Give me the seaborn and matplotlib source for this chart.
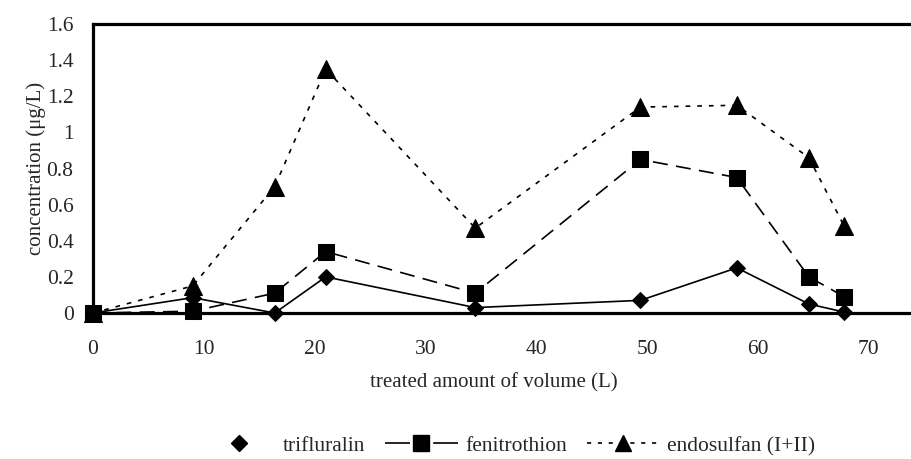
import matplotlib
matplotlib.use("Agg")
import matplotlib.pyplot as plt
from matplotlib.lines import Line2D
import seaborn as sns
import pandas as pd

# treated volume (L) at each sampling point
volume = [0, 9.0, 16.4, 21.0, 34.5, 49.4, 58.1, 64.6, 67.8]
# pesticide concentrations (ug/L)
trifluralin = [0.0, 0.085, 0.0, 0.20, 0.03, 0.07, 0.25, 0.05, 0.005]
fenitrothion = [0.0, 0.01, 0.11, 0.34, 0.11, 0.85, 0.75, 0.20, 0.09]
endosulfan = [0.0, 0.15, 0.70, 1.35, 0.47, 1.14, 1.15, 0.86, 0.48]

series_names = ["trifluralin", "fenitrothion", "endosulfan (I+II)"]
x_ticks = [0, 10, 20, 30, 40, 50, 60, 70]
y_ticks = [0, 0.2, 0.4, 0.6, 0.8, 1, 1.2, 1.4, 1.6]
y_tick_labels = ["0", "0.2", "0.4", "0.6", "0.8", "1", "1.2", "1.4", "1.6"]

sns.set_style("white")
plt.rcParams["font.family"] = ["Liberation Serif", "DejaVu Serif"]

df = pd.DataFrame({
    "volume": volume * 3,
    "conc": trifluralin + fenitrothion + endosulfan,
    "series": [series_names[0]] * len(volume)
    + [series_names[1]] * len(volume)
    + [series_names[2]] * len(volume),
})

fig = plt.figure(figsize=(9.11, 4.59), dpi=100)
ax = fig.add_axes([93 / 911, 1 - 313 / 459, 1 - 93 / 911 + 0.001, (313 - 24) / 459])

styles = {
    series_names[0]: dict(marker="D", markersize=8.5, linestyle="-", lw=1.2),
    series_names[1]: dict(marker="s", markersize=12, linestyle=(0, (9, 5)), lw=1.2),
    series_names[2]: dict(marker="^", markersize=12.5, linestyle=(0, (2.8, 4.2)), lw=1.2),
}

for name in series_names:
    sub = df[df["series"] == name]
    st = styles[name]
    sns.lineplot(data=sub, x="volume", y="conc", ax=ax, color="black",
                 marker=st["marker"], markersize=st["markersize"],
                 linestyle=st["linestyle"], linewidth=st["lw"],
                 markeredgecolor="black", markerfacecolor="black",
                 clip_on=False, legend=False, zorder=3)

ax.set_xlim(0, 73.9)
ax.set_ylim(0, 1.6)
ax.set_xticks(x_ticks)
ax.set_xticklabels([str(t) for t in x_ticks])
ax.set_yticks(y_ticks)
ax.set_yticklabels(y_tick_labels)
ax.tick_params(axis="both", direction="out", length=4, width=1, color="black",
               labelsize=15.5)
ax.tick_params(axis="x", pad=15.5)
ax.tick_params(axis="y", pad=10)

for side in ["left", "bottom", "top"]:
    ax.spines[side].set_visible(True)
    ax.spines[side].set_linewidth(2.3)
    ax.spines[side].set_color("black")
ax.spines["right"].set_visible(False)

ax.set_xlabel("treated amount of volume (L)", fontsize=15)
ax.set_ylabel("concentration (μg/L)", fontsize=15)
ax.xaxis.set_label_coords(0.49, -0.208)
ax.yaxis.set_label_coords(-0.057, 0.5)

handles = [
    Line2D([], [], color="black", marker="D", markersize=8.5, linestyle="none"),
    Line2D([], [], color="black", marker="s", markersize=11,
           linestyle=(0, (15, 13.9)), lw=1.2),
    Line2D([], [], color="black", marker="^", markersize=11,
           linestyle=(0, (2.5, 4)), lw=1.2),
]
fig.legend(handles, series_names, loc="center", bbox_to_anchor=(509 / 911, 1 - 446 / 459),
           ncol=3, frameon=False, fontsize=15.5, handlelength=3.4, columnspacing=0.9,
           handletextpad=0.35, borderaxespad=0, borderpad=0)

fig.savefig("out.png", dpi=100)
